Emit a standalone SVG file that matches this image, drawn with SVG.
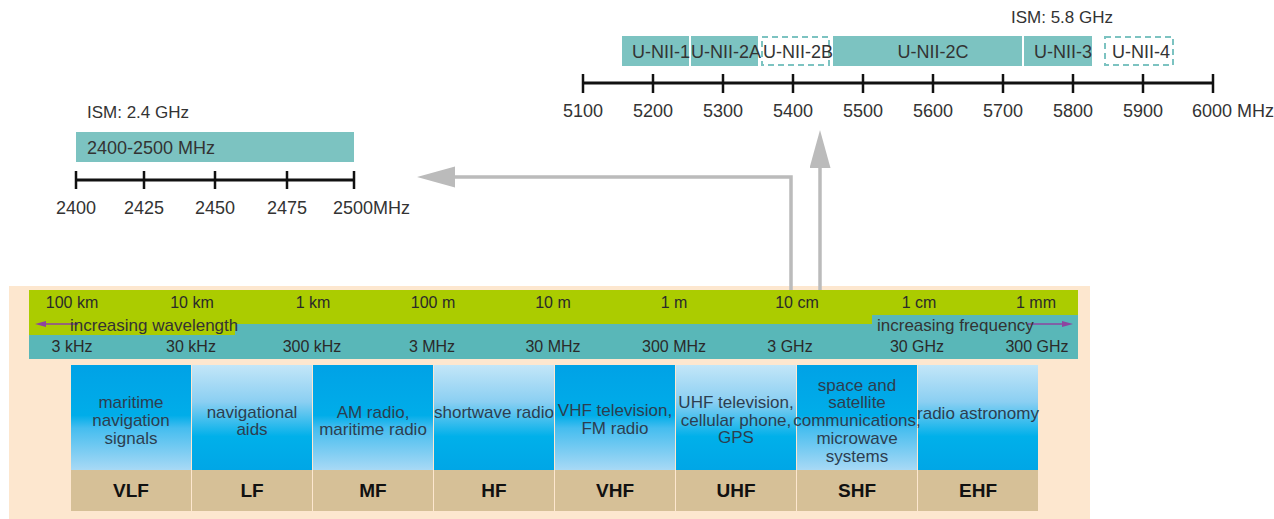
<svg xmlns="http://www.w3.org/2000/svg" width="1274" height="519" viewBox="0 0 1274 519">
<style>
text{font-family:"Liberation Sans",Arial,sans-serif;fill:#333}
.t18{font-size:18px}
.t17{font-size:17px}
.t16{font-size:16px;fill:#2a2a2a}
.mid{text-anchor:middle}
.band{font-size:17px;fill:#2c3e50;text-anchor:middle}
.bold{font-size:19px;font-weight:bold;fill:#111;text-anchor:middle}
.ax{stroke:#111;stroke-width:3;fill:none}
.tk{stroke:#111;stroke-width:2.5}
.ism{fill:#7cc3c1}
.dash{fill:none;stroke:#7cc3c1;stroke-width:2;stroke-dasharray:6 4}
.tan{fill:#d6c097}
.conn{stroke:#bbbbbb;stroke-width:3.5;fill:none}
.purp{stroke:#8e44a0;stroke-width:1.5;fill:none}
</style>
<defs>
<linearGradient id="gDown" x1="0" y1="0" x2="0" y2="1">
<stop offset="0" stop-color="#00a2e6"/>
<stop offset="0.48" stop-color="#00ade9"/>
<stop offset="0.6" stop-color="#45bdef"/>
<stop offset="1" stop-color="#a8d9f5"/>
</linearGradient>
<linearGradient id="gUp" x1="0" y1="0" x2="0" y2="1">
<stop offset="0" stop-color="#c3e6f8"/>
<stop offset="0.35" stop-color="#8bcff2"/>
<stop offset="0.68" stop-color="#00b0ea"/>
<stop offset="1" stop-color="#00a6e6"/>
</linearGradient>
<marker id="grey" markerUnits="userSpaceOnUse" markerWidth="40" markerHeight="24" refX="0" refY="10.5" orient="auto">
<path d="M0,0 L38,10.5 L0,21 Z" fill="#bbbbbb"/>
</marker>
<marker id="pa" markerUnits="userSpaceOnUse" markerWidth="14" markerHeight="8" refX="0" refY="3" orient="auto">
<path d="M0,0 L11,3 L0,6 Z" fill="#8e44a0"/>
</marker>
</defs>

<!-- ISM 5.8 GHz -->
<g id="ism58">
<text class="t17 mid" x="1062" y="23">ISM: 5.8 GHz</text>
<rect class="ism" x="622" y="36" width="67" height="30"/>
<rect class="ism" x="691" y="36" width="67" height="30"/>
<rect class="dash" x="762" y="37" width="67" height="28"/>
<rect class="ism" x="833" y="36" width="189" height="30"/>
<rect class="ism" x="1024" y="36" width="68" height="30"/>
<rect class="dash" x="1105" y="37" width="68" height="28"/>
<text class="t18 mid" x="661" y="58">U-NII-1</text>
<text class="t18 mid" x="726" y="58">U-NII-2A</text>
<text class="t18 mid" x="798" y="58">U-NII-2B</text>
<text class="t18 mid" x="933" y="58">U-NII-2C</text>
<text class="t18 mid" x="1063" y="58">U-NII-3</text>
<text class="t18 mid" x="1141" y="58">U-NII-4</text>
<line class="ax" x1="583" y1="83" x2="1213" y2="83"/>
<path class="tk" d="M583,74V93M653,74V93M723,74V93M793,74V93M863,74V93M933,74V93M1003,74V93M1073,74V93M1143,74V93M1213,74V93"/>
<text class="t18 mid" x="583" y="117">5100</text>
<text class="t18 mid" x="653" y="117">5200</text>
<text class="t18 mid" x="723" y="117">5300</text>
<text class="t18 mid" x="793" y="117">5400</text>
<text class="t18 mid" x="863" y="117">5500</text>
<text class="t18 mid" x="933" y="117">5600</text>
<text class="t18 mid" x="1003" y="117">5700</text>
<text class="t18 mid" x="1073" y="117">5800</text>
<text class="t18 mid" x="1143" y="117">5900</text>
<text class="t18" x="1192" y="117">6000 MHz</text>
</g>

<!-- ISM 2.4 GHz -->
<g id="ism24">
<text class="t17" x="87" y="118">ISM: 2.4 GHz</text>
<rect class="ism" x="76" y="132" width="278" height="30"/>
<text class="t18" x="87" y="154">2400-2500 MHz</text>
<line class="ax" x1="76" y1="180" x2="354" y2="180"/>
<path class="tk" d="M76,171V189M144,171V189M215,171V189M287,171V189M354,171V189"/>
<text class="t18 mid" x="76" y="214">2400</text>
<text class="t18 mid" x="144" y="214">2425</text>
<text class="t18 mid" x="215" y="214">2450</text>
<text class="t18 mid" x="287" y="214">2475</text>
<text class="t18" x="333" y="214">2500MHz</text>
</g>

<!-- spectrum background and scales -->
<g id="spectrum">
<rect x="9" y="286" width="1081" height="233" fill="#fde7cf"/>
<rect x="29" y="290" width="1049" height="34" fill="#abcc00"/>
<rect x="29" y="324" width="1049" height="35" fill="#59b7b8"/>
<rect x="29" y="323" width="206" height="12" fill="#abcc00"/>
<rect x="872" y="315" width="206" height="10" fill="#59b7b8"/>
<text class="t16 mid" x="72" y="308">100 km</text>
<text class="t16 mid" x="192" y="308">10 km</text>
<text class="t16 mid" x="313" y="308">1 km</text>
<text class="t16 mid" x="433" y="308">100 m</text>
<text class="t16 mid" x="553" y="308">10 m</text>
<text class="t16 mid" x="674" y="308">1 m</text>
<text class="t16 mid" x="797" y="308">10 cm</text>
<text class="t16 mid" x="919" y="308">1 cm</text>
<text class="t16 mid" x="1036" y="308">1 mm</text>
<text class="t16 mid" x="72" y="352">3 kHz</text>
<text class="t16 mid" x="191" y="352">30 kHz</text>
<text class="t16 mid" x="312" y="352">300 kHz</text>
<text class="t16 mid" x="432" y="352">3 MHz</text>
<text class="t16 mid" x="553" y="352">30 MHz</text>
<text class="t16 mid" x="674" y="352">300 MHz</text>
<text class="t16 mid" x="790" y="352">3 GHz</text>
<text class="t16 mid" x="917" y="352">30 GHz</text>
<text class="t16 mid" x="1037" y="352">300 GHz</text>
<line class="purp" x1="78" y1="324" x2="46" y2="324" marker-end="url(#pa)"/>
<line class="purp" x1="1028" y1="324" x2="1062" y2="324" marker-end="url(#pa)"/>
<text class="t17" x="70" y="331" fill="#2a2a2a">increasing wavelength</text>
<text class="t17" x="877" y="331" fill="#2a2a2a">increasing frequency</text>
</g>

<g id="VLF">
<rect x="71" y="365" width="120" height="105" fill="url(#gDown)"/>
<rect class="tan" x="71" y="470" width="120" height="41"/>
<text class="band" x="131" y="408">maritime</text>
<text class="band" x="131" y="426">navigation</text>
<text class="band" x="131" y="444">signals</text>
<text class="bold" x="131" y="497">VLF</text>
</g>
<g id="LF">
<rect x="192" y="365" width="120" height="105" fill="url(#gUp)"/>
<rect class="tan" x="192" y="470" width="120" height="41"/>
<text class="band" x="252" y="418">navigational</text>
<text class="band" x="252" y="435">aids</text>
<text class="bold" x="252" y="497">LF</text>
</g>
<g id="MF">
<rect x="313" y="365" width="120" height="105" fill="url(#gDown)"/>
<rect class="tan" x="313" y="470" width="120" height="41"/>
<text class="band" x="373" y="418">AM radio,</text>
<text class="band" x="373" y="435">maritime radio</text>
<text class="bold" x="373" y="497">MF</text>
</g>
<g id="HF">
<rect x="434" y="365" width="120" height="105" fill="url(#gUp)"/>
<rect class="tan" x="434" y="470" width="120" height="41"/>
<text class="band" x="494" y="418">shortwave radio</text>
<text class="bold" x="494" y="497">HF</text>
</g>
<g id="VHF">
<rect x="555" y="365" width="120" height="105" fill="url(#gDown)"/>
<rect class="tan" x="555" y="470" width="120" height="41"/>
<text class="band" x="615" y="416">VHF television,</text>
<text class="band" x="615" y="434">FM radio</text>
<text class="bold" x="615" y="497">VHF</text>
</g>
<g id="UHF">
<rect x="676" y="365" width="120" height="105" fill="url(#gUp)"/>
<rect class="tan" x="676" y="470" width="120" height="41"/>
<text class="band" x="736" y="408">UHF television,</text>
<text class="band" x="736" y="426">cellular phone,</text>
<text class="band" x="736" y="443">GPS</text>
<text class="bold" x="736" y="497">UHF</text>
</g>
<g id="EHF">
<rect x="918" y="365" width="120" height="105" fill="url(#gUp)"/>
<rect class="tan" x="918" y="470" width="120" height="41"/>
<text class="band" x="978" y="419">radio astronomy</text>
<text class="bold" x="978" y="497">EHF</text>
</g>
<g id="SHF">
<rect x="797" y="365" width="120" height="105" fill="url(#gDown)"/>
<rect class="tan" x="797" y="470" width="120" height="41"/>
<text class="band" x="857" y="391">space and</text>
<text class="band" x="857" y="408">satellite</text>
<text class="band" x="857" y="426">communications,</text>
<text class="band" x="857" y="444">microwave</text>
<text class="band" x="857" y="462">systems</text>
<text class="bold" x="857" y="497">SHF</text>
</g>

<g id="connectors">
<path class="conn" d="M791,290 V177 H455" marker-end="url(#grey)"/>
<path class="conn" d="M820,290 V168" marker-end="url(#grey)"/>
</g>
</svg>
